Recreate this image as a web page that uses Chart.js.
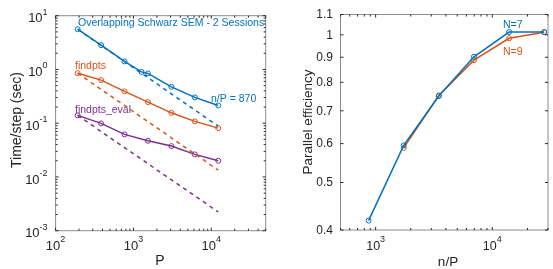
<!DOCTYPE html>
<html>
<head>
<meta charset="utf-8">
<script src="https://cdn.jsdelivr.net/npm/chart.js@4"></script>
<style>
  body { margin: 0; background: #fff; }
  canvas { position: absolute; top: 0; }
</style>
</head>
<body>
<canvas id="left" width="280" height="269" style="left:0"></canvas>
<canvas id="right" width="273" height="269" style="left:280px"></canvas>
<script>
// left panel: time per step vs P
const procs = [192, 384, 768, 1536, 3072, 6144, 12288];
const schwarzP = [192, 384, 768, 1270, 1536, 3072, 6144, 12288];
const schwarzTime = [5.6, 2.83, 1.41, 0.90, 0.843, 0.475, 0.302, 0.214];
const findptsTime = [0.853, 0.633, 0.390, 0.247, 0.156, 0.108, 0.081];
const evalTime = [0.1396, 0.0991, 0.0619, 0.0471, 0.0375, 0.0263, 0.0200];
// ideal scaling guides (read at first and last P)
const idealP = [192, 12288];
const schwarzIdeal = [5.6, 0.088];
const findptsIdeal = [0.853, 0.0134];
const evalIdeal = [0.1396, 0.00223];

// right panel: parallel efficiency vs n/P
const nPerP7 = [870, 1740, 3480, 6960, 13920, 27840];
const eff7 = [0.418, 0.595, 0.750, 0.902, 1.013, 1.013];
const nPerP9 = [1740, 3480, 6960, 13920, 27840];
const eff9 = [0.588, 0.752, 0.888, 0.984, 1.012];
const effTicks = [0.4, 0.5, 0.6, 0.7, 0.8, 0.9, 1, 1.1];

const blue = '#0072BD';
const orange = '#D95319';
const purple = '#7E2F8E';
const axisColor = '#262626';
const font = '"Liberation Sans", Arial, sans-serif';

const pts = (xs, ys) => xs.map((x, i) => ({ x: x, y: ys[i] }));

function solid(xs, ys, color) {
    return {
        data: pts(xs, ys), borderColor: color, borderWidth: 1.5,
        pointRadius: 2.5, pointBorderWidth: 1, pointBackgroundColor: 'rgba(0,0,0,0)',
        pointBorderColor: color, tension: 0
    };
}
function dashed(xs, ys, color) {
    return {
        data: pts(xs, ys), borderColor: color, borderWidth: 1.5,
        borderDash: [4, 4], pointRadius: 0, tension: 0
    };
}

function decades(min, max) {
    const major = [], minor = [];
    for (let e = Math.floor(Math.log10(min)); e <= Math.ceil(Math.log10(max)); e++) {
        for (let m = 1; m < 10; m++) {
            const v = m * Math.pow(10, e);
            if (v < min * 0.999 || v > max * 1.001) continue;
            (m === 1 ? major : minor).push(v);
        }
    }
    return { major, minor };
}

function drawPow(ctx, exp, x, y, align, size) {
    ctx.font = size + 'px ' + font;
    const wb = ctx.measureText('10').width;
    ctx.font = Math.round(size * 0.7) + 'px ' + font;
    const we = ctx.measureText(String(exp)).width;
    let x0 = align === 'center' ? x - (wb + we) / 2 : x - wb - we;
    ctx.textAlign = 'left';
    ctx.textBaseline = 'middle';
    ctx.font = size + 'px ' + font;
    ctx.fillText('10', x0, y + 3);
    ctx.font = Math.round(size * 0.7) + 'px ' + font;
    ctx.fillText(String(exp), x0 + wb, y - 3.5);
}

// box, inward ticks and labels, MATLAB style
function boxPlugin(cfg) {
    return {
        id: 'box',
        afterDraw(chart) {
            const ctx = chart.ctx, a = chart.chartArea;
            const xs = chart.scales.x, ys = chart.scales.y;
            ctx.save();
            ctx.strokeStyle = '#8c8c8c';
            ctx.lineWidth = 1;
            ctx.strokeRect(a.left, a.top, a.right - a.left, a.bottom - a.top);
            ctx.strokeStyle = axisColor;
            const xt = decades(xs.min, xs.max);
            const tick = (v, len, horiz) => {
                ctx.beginPath();
                if (horiz) {
                    const p = xs.getPixelForValue(v);
                    ctx.moveTo(p, a.bottom); ctx.lineTo(p, a.bottom - len);
                    ctx.moveTo(p, a.top); ctx.lineTo(p, a.top + len);
                } else {
                    const p = ys.getPixelForValue(v);
                    ctx.moveTo(a.left, p); ctx.lineTo(a.left + len, p);
                    ctx.moveTo(a.right, p); ctx.lineTo(a.right - len, p);
                }
                ctx.stroke();
            };
            xt.major.forEach(v => tick(v, 3, true));
            xt.minor.forEach(v => tick(v, 2, true));
            if (cfg.yPow) {
                const yt = decades(ys.min, ys.max);
                yt.major.forEach(v => tick(v, 3, false));
                yt.minor.forEach(v => tick(v, 2, false));
            } else {
                cfg.yTicks.forEach(v => tick(v, 3, false));
            }
            ctx.fillStyle = axisColor;
            xt.major.forEach(v => {
                drawPow(ctx, Math.round(Math.log10(v)), xs.getPixelForValue(v), 243.5, 'center', cfg.size);
            });
            if (cfg.yPow) {
                decades(ys.min, ys.max).major.forEach(v => {
                    const e = Math.round(Math.log10(v));
                    drawPow(ctx, e, a.left - 8, ys.getPixelForValue(v), 'right', cfg.size);
                });
            } else {
                ctx.font = '12px ' + font;
                ctx.textAlign = 'right';
                ctx.textBaseline = 'middle';
                cfg.yTicks.forEach(v => ctx.fillText(String(v), a.left - 7.5, ys.getPixelForValue(v) + 0.5));
            }
            // axis titles
            ctx.font = cfg.titleSize + 'px ' + font;
            ctx.textAlign = 'center';
            ctx.textBaseline = 'middle';
            ctx.fillText(cfg.xTitle, cfg.xTitlePos[0], cfg.xTitlePos[1]);
            ctx.save();
            ctx.translate(cfg.yTitlePos[0], cfg.yTitlePos[1]);
            ctx.rotate(-Math.PI / 2);
            ctx.fillText(cfg.yTitle, 0, 0);
            ctx.restore();
            // annotations
            ctx.font = '10.5px ' + font;
            ctx.textAlign = 'left';
            cfg.notes.forEach(n => {
                ctx.fillStyle = n[3];
                ctx.fillText(n[0], n[1], n[2]);
            });
            ctx.restore();
        }
    };
}

function baseOptions(xMin, xMax, yMin, yMax, pad, yWidth, xHeight) {
    return {
        responsive: false, animation: false, devicePixelRatio: 1,
        layout: { padding: pad },
        plugins: { legend: { display: false }, tooltip: { enabled: false } },
        scales: {
            x: {
                type: 'logarithmic', min: xMin, max: xMax,
                grid: { display: false }, border: { display: false },
                ticks: { display: false },
                afterFit: s => { s.height = xHeight; }
            },
            y: {
                type: 'logarithmic', min: yMin, max: yMax,
                grid: { display: false }, border: { display: false },
                ticks: { display: false },
                afterFit: s => { s.width = yWidth; }
            }
        }
    };
}

new Chart(document.getElementById('left'), {
    type: 'line',
    data: {
        datasets: [
            dashed(idealP, schwarzIdeal, blue),
            dashed(idealP, findptsIdeal, orange),
            dashed(idealP, evalIdeal, purple),
            solid(schwarzP, schwarzTime, blue),
            solid(procs, findptsTime, orange),
            solid(procs, evalTime, purple)
        ]
    },
    options: baseOptions(100, 5e4, 1e-3, 10,
        { left: 0, top: 15.7, right: 14.3, bottom: 0 }, 55.6, 38.3),
    plugins: [boxPlugin({
        yPow: true, size: 13, titleSize: 14,
        xTitle: 'P', xTitlePos: [160, 261.5],
        yTitle: 'Time/step (sec)', yTitlePos: [17, 120],
        notes: [
            ['Overlapping Schwarz SEM - 2 Sessions', 78, 23.5, blue],
            ['findpts', 75, 66.5, orange],
            ['findpts_eval', 75, 110, purple],
            ['n/P = 870', 211, 99, blue]
        ]
    })]
});

new Chart(document.getElementById('right'), {
    type: 'line',
    data: {
        datasets: [
            solid(nPerP7, eff7, blue),
            solid(nPerP9, eff9, orange)
        ]
    },
    options: baseOptions(500, 3e4, 0.4, 1.1,
        { left: 0, top: 14.5, right: 0, bottom: 0 }, 60.5, 39),
    plugins: [boxPlugin({
        yPow: false, yTicks: effTicks, size: 12.5, titleSize: 13.5,
        xTitle: 'n/P', xTitlePos: [168, 262.5],
        yTitle: 'Parallel efficiency', yTitlePos: [28, 122],
        notes: [
            ['N=7', 223, 25, blue],
            ['N=9', 223, 52, orange]
        ]
    })]
});
</script>
</body>
</html>
